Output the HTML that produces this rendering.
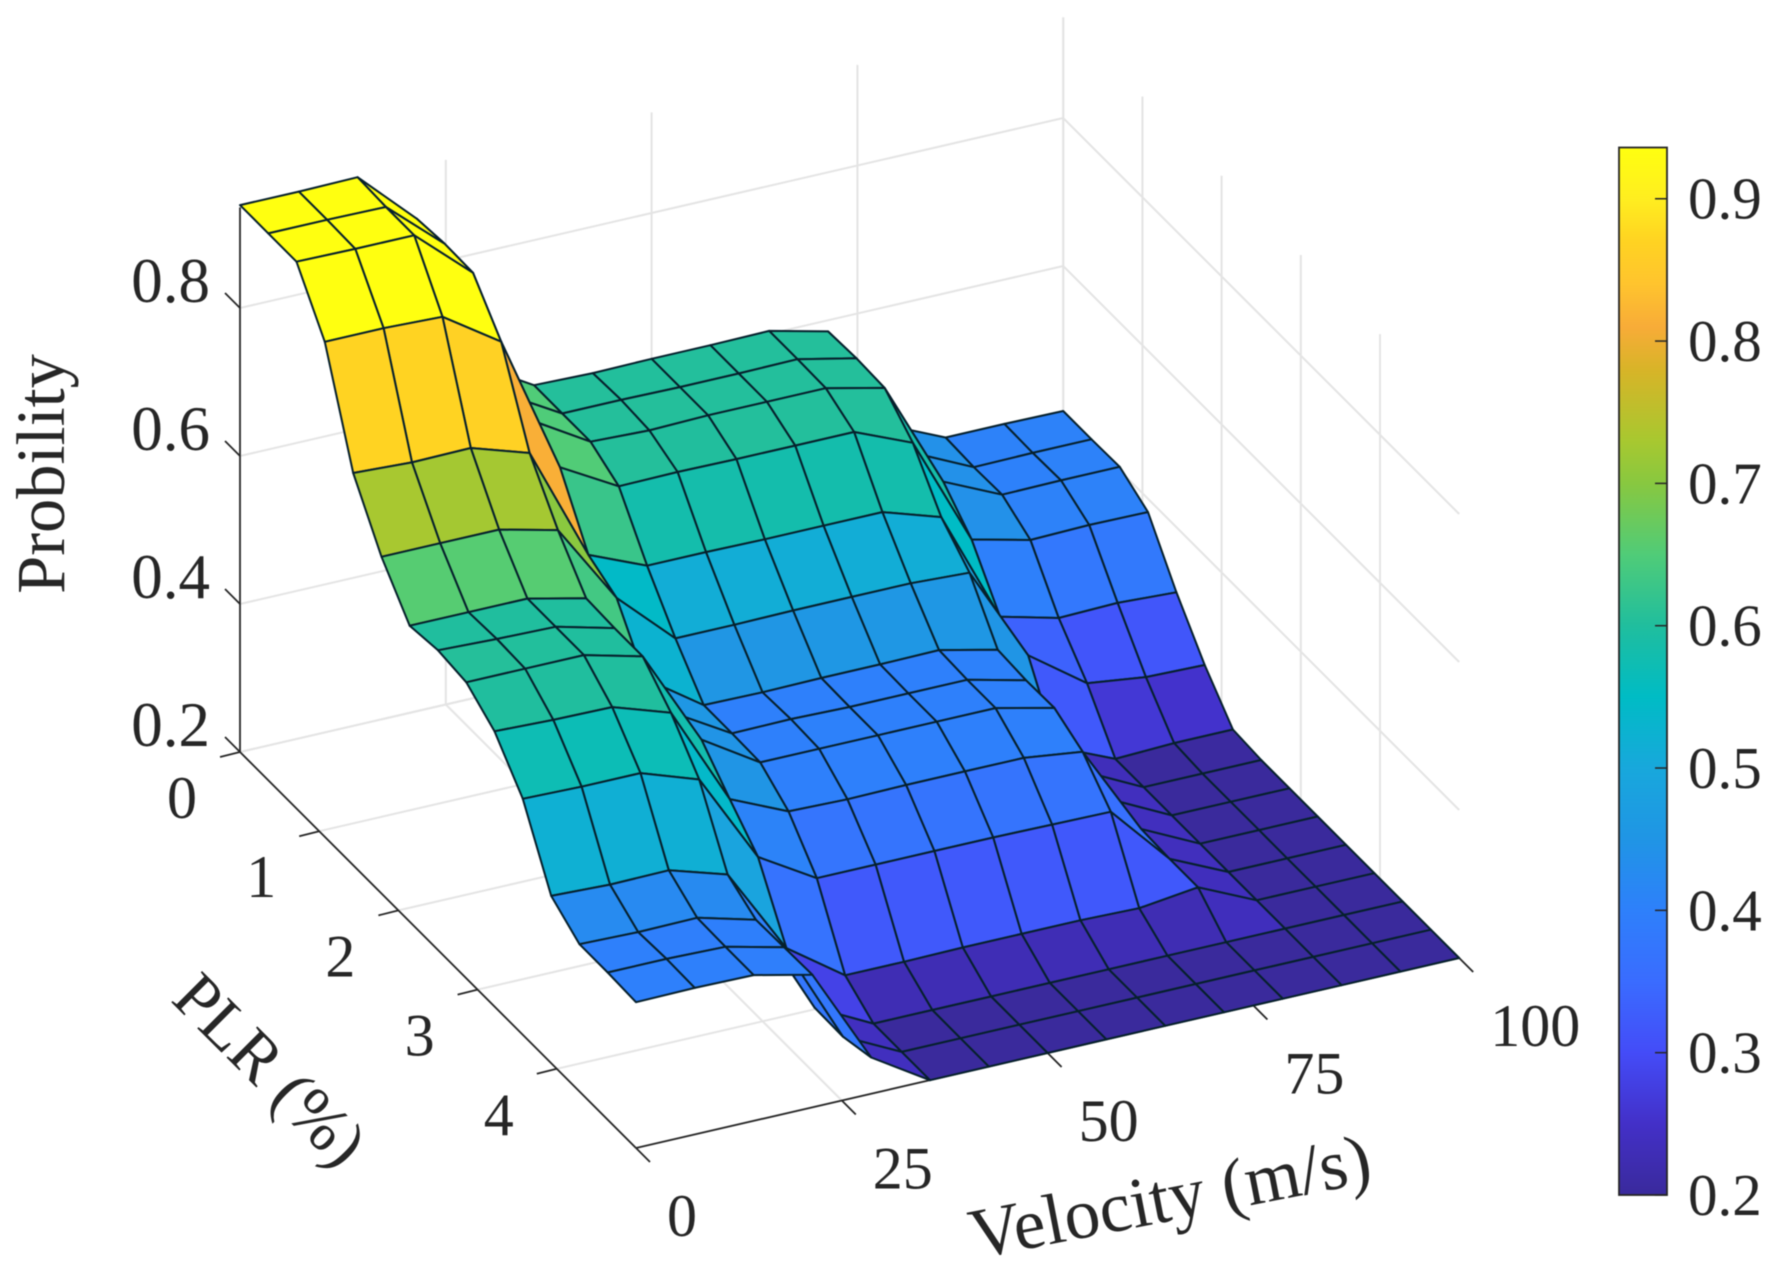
<!DOCTYPE html>
<html>
<head>
<meta charset="utf-8">
<title>Probility surface</title>
<style>
html,body{margin:0;padding:0;background:#fff;}
svg{display:block;filter:blur(0.5px);}
text{font-family:"Liberation Serif",serif;fill:#262626;}
</style>
</head>
<body>
<svg id="chart" xmlns="http://www.w3.org/2000/svg" width="1778" height="1276" viewBox="0 0 1778 1276">
  <g id="grid"></g>
  <g id="axes"></g>
  <g id="surface"></g>
  <g id="labels"></g>
  <text x="0" y="0" font-size="68.5" text-anchor="middle" dominant-baseline="central" transform="translate(41 474) rotate(-90)">Probility</text>
  <text x="0" y="0" font-size="67" text-anchor="middle" dominant-baseline="central" transform="translate(270 1070) rotate(45)">PLR (%)</text>
  <text x="0" y="0" font-size="71.5" text-anchor="middle" dominant-baseline="central" transform="translate(1170 1197) rotate(-11)">Velocity (m/s)</text>
  <defs><linearGradient id="cbGrad" x1="0" y1="1" x2="0" y2="0"></linearGradient></defs>
  <g id="colorbar"></g>
</svg>
<script>
// Chart data
const velocities = [0,7.14,14.29,21.43,28.57,35.71,42.86,50,57.14,64.29,71.43,78.57,85.71,92.86,100];
const plrValues = [0,0.357,0.714,1.071,1.429,1.786,2.143,2.5,2.857,3.214,3.571,3.929,4.286,4.643,5];
const velocityTicks = [0,25,50,75,100];
const plrTicks = [0,1,2,3,4];
const probabilityTicks = [0.2,0.4,0.6,0.8];
const colorbarTicks = [0.2,0.3,0.4,0.5,0.6,0.7,0.8,0.9];
// One row per PLR sample, one column per velocity sample
const probability = [
 [.939,.939,.940,.866,.650,.604,.602,.603,.603,.604,.585,.440,.405,.405,.404],
 [.939,.939,.938,.870,.649,.604,.604,.603,.603,.604,.587,.440,.403,.404,.404],
 [.939,.938,.938,.869,.651,.604,.601,.603,.603,.603,.585,.440,.404,.405,.405],
 [.869,.869,.866,.814,.626,.582,.583,.582,.582,.582,.549,.400,.381,.383,.382],
 [.730,.726,.727,.702,.546,.513,.513,.512,.512,.512,.487,.334,.314,.316,.312],
 [.655,.655,.655,.636,.526,.453,.453,.454,.454,.454,.450,.320,.264,.254,.252],
 [.600,.600,.600,.582,.455,.401,.400,.401,.401,.402,.384,.234,.200,.203,.203],
 [.605,.602,.600,.580,.447,.401,.402,.400,.400,.400,.381,.239,.200,.200,.200],
 [.600,.600,.600,.580,.449,.400,.400,.400,.400,.400,.382,.239,.200,.200,.200],
 [.572,.569,.568,.542,.407,.372,.370,.371,.371,.371,.361,.238,.200,.200,.200],
 [.519,.517,.517,.490,.367,.320,.320,.320,.320,.319,.318,.236,.200,.200,.200],
 [.426,.423,.424,.400,.282,.227,.227,.228,.228,.228,.226,.236,.200,.200,.200],
 [.399,.397,.398,.377,.240,.200,.200,.200,.200,.200,.200,.200,.200,.200,.200],
 [.399,.399,.397,.378,.239,.200,.200,.200,.200,.200,.200,.200,.200,.200,.200],
 [.397,.398,.397,.379,.249,.200,.200,.200,.200,.200,.200,.200,.200,.200,.200]
];
// Colormap levels
const colorLevels = [0.2,0.25,0.3,0.35,0.4,0.45,0.5,0.55,0.6,0.65,0.7,0.73,0.78,0.81,0.84,0.87,0.9,0.936];
const colorValues = ['#3a2a9c','#4330c8','#444cf8','#3a6cff','#2e80fb','#2095e5','#18a8dc','#00bcc5','#20be9e','#50cc78','#88c840','#a8c830','#d8b428','#f8ac38','#ffc42e','#ffd322','#ffee20','#ffff10'];

const NS = 'http://www.w3.org/2000/svg';
const zFloor = 0.2, zTop = 0.936;
function sx(v,p){ return 240 + v/100*823.2 + p/5*396; }
function floorY(v,p){ return 752 - v/100*190 + p/5*396; }
function sy(v,p,z){ return floorY(v,p) - (z-zFloor)*740; }
function hexToRgb(h){ return [parseInt(h.slice(1,3),16),parseInt(h.slice(3,5),16),parseInt(h.slice(5,7),16)]; }
function colorFor(z){
  if(z<=colorLevels[0]) return colorValues[0];
  for(let i=1;i<colorLevels.length;i++){
    if(z<=colorLevels[i]){
      const t=(z-colorLevels[i-1])/(colorLevels[i]-colorLevels[i-1]);
      const a=hexToRgb(colorValues[i-1]), b=hexToRgb(colorValues[i]);
      return 'rgb('+a.map((u,k)=>Math.round(u+(b[k]-u)*t)).join(',')+')';
    }
  }
  return colorValues[colorValues.length-1];
}
function make(tag,attrs,parent){
  const el=document.createElementNS(NS,tag);
  for(const k in attrs) el.setAttribute(k,attrs[k]);
  parent.appendChild(el);
  return el;
}
const grid=document.getElementById('grid'), axes=document.getElementById('axes'),
      surface=document.getElementById('surface'), labels=document.getElementById('labels'),
      colorbar=document.getElementById('colorbar');
const gridStyle={stroke:'#e4e4e4','stroke-width':2,fill:'none'};
const axisStyle={stroke:'#262626','stroke-width':1.8,fill:'none'};
const vMax=velocityTicks[velocityTicks.length-1], pMax=5;

function gridLine(x1,y1,x2,y2){
  const l=make('line',Object.assign({x1:x1,y1:y1,x2:x2,y2:y2},gridStyle),grid);
  
  
}
function axisLine(x1,y1,x2,y2,name){
  const l=make('line',Object.assign({x1:x1,y1:y1,x2:x2,y2:y2},axisStyle),axes);
  
  
}
// z grid on the two walls
probabilityTicks.forEach(z=>{
  gridLine(sx(0,0),sy(0,0,z),sx(vMax,0),sy(vMax,0,z));
  gridLine(sx(vMax,0),sy(vMax,0,z),sx(vMax,pMax),sy(vMax,pMax,z));
});
// velocity grid: wall vertical and floor line
velocityTicks.forEach(v=>{
  if(v>0) gridLine(sx(v,0),sy(v,0,zFloor),sx(v,0),sy(v,0,zTop));
  gridLine(sx(v,0),floorY(v,0),sx(v,pMax),floorY(v,pMax));
});
// PLR grid: wall vertical and floor line
plrTicks.forEach(p=>{
  gridLine(sx(vMax,p),sy(vMax,p,zFloor),sx(vMax,p),sy(vMax,p,zTop));
  gridLine(sx(0,p),floorY(0,p),sx(vMax,p),floorY(vMax,p));
});
// Axis lines and ticks
axisLine(sx(0,0),sy(0,0,zFloor),sx(0,0),sy(0,0,zTop),'z-axis-line');
axisLine(sx(0,0),floorY(0,0),sx(0,pMax),floorY(0,pMax),'plr-axis-line');
axisLine(sx(0,pMax),floorY(0,pMax),sx(vMax,pMax),floorY(vMax,pMax),'velocity-axis-line');
probabilityTicks.forEach(z=>{
  const x=sx(0,0), y=sy(0,0,z);
  axisLine(x,y,x-15,y-15,'z-tick');
  const t=make('text',{x:210,y:y-27,'font-size':63,'text-anchor':'end','dominant-baseline':'central'},labels);
  
  
  t.textContent=z.toFixed(1);
});
plrTicks.forEach(p=>{
  const x=sx(0,p), y=floorY(0,p);
  axisLine(x,y,x-20,y+5,'plr-tick');
  const t=make('text',{x:x-58,y:y+46,'font-size':60,'text-anchor':'middle','dominant-baseline':'central'},labels);
  
  
  t.textContent=String(p);
});
velocityTicks.forEach(v=>{
  const x=sx(v,pMax), y=floorY(v,pMax);
  axisLine(x,y,x+14,y+14,'velocity-tick');
  const t=make('text',{x:x+31,y:y+68,'font-size':60,'text-anchor':'start','dominant-baseline':'central'},labels);
  
  
  t.textContent=String(v);
});
// Surface, painted back to front
for(let c=velocities.length-2;c>=0;c--){
  for(let r=0;r<plrValues.length-1;r++){
    const pts=[[c,r],[c+1,r],[c+1,r+1],[c,r+1]].map(q=>{
      const v=velocities[q[0]], p=plrValues[q[1]], z=probability[q[1]][q[0]];
      return sx(v,p).toFixed(1)+','+sy(v,p,z).toFixed(1);
    }).join(' ');
    const face=make('polygon',{points:pts,fill:colorFor(probability[r][c]),stroke:'#06202c','stroke-width':2,'stroke-linejoin':'round'},surface);
    
    
  }
}
// Colorbar
const cbLeft=1619, cbRight=1667, cbTop=147.5, cbBottom=1195;
function cbY(z){ return cbBottom-(z-zFloor)/(zTop-zFloor)*(cbBottom-cbTop); }
const grad=document.getElementById('cbGrad');
colorLevels.forEach((lv,i)=>{
  make('stop',{offset:((lv-zFloor)/(zTop-zFloor)*100).toFixed(2)+'%','stop-color':colorValues[i]},grad);
});
const bar=make('rect',{x:cbLeft,y:cbTop,width:cbRight-cbLeft,height:cbBottom-cbTop,fill:'url(#cbGrad)',stroke:'#262626','stroke-width':1.8},colorbar);


colorbarTicks.forEach(z=>{
  const y=cbY(z);
  const tick=make('line',{x1:cbRight-12,y1:y,x2:cbRight,y2:y,stroke:'#262626','stroke-width':1.5},colorbar);
  
  
  const t=make('text',{x:1688,y:y,'font-size':59,'text-anchor':'start','dominant-baseline':'central'},colorbar);
  
  
  t.textContent=z.toFixed(1);
});
</script>
</body>
</html>
